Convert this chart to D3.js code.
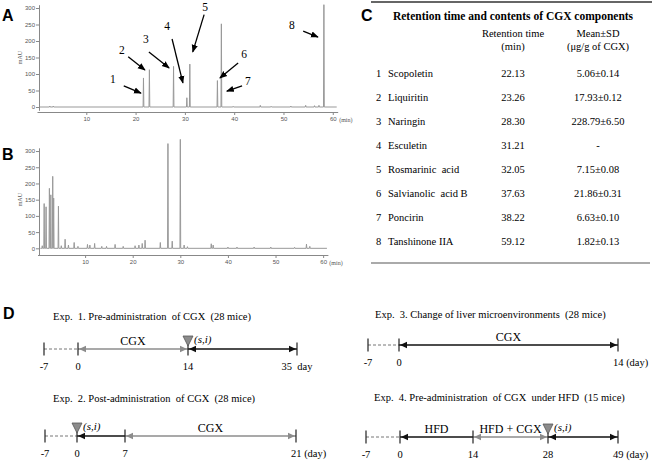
<!DOCTYPE html>
<html>
<head>
<meta charset="utf-8">
<script src="https://cdn.jsdelivr.net/npm/d3@7"></script>
<style>
body { margin: 0; background: #fff; }
svg { display: block; font-family: "Liberation Serif", "Times New Roman", serif; }
.pl { font-family: "Liberation Sans", Arial, sans-serif; font-weight: bold; font-size: 16px; }
.ax text { font-size: 6px; fill: #555; }
.ax path, .ax line { stroke: #888; }
</style>
</head>
<body>
<div id="fig"></div>
<script>
// chromatogram peaks, [retention time (min), mAU]
const peaksA = [[2.6,3],[3.3,3],[21.6,88],[22.8,113],[27.7,123],[30.4,28],[31.0,130],[36.6,80],[37.4,252],
	[39.8,2],[45.3,5],[47.5,2],[51.5,3],[54.5,5],[56.3,4],[57.2,5],[58.2,310]];
const peaksB = [[1.0,8],[1.4,138],[1.8,128],[2.5,185],[2.8,165],[3.2,222],[3.4,155],[4.4,130],[5.0,8],[5.8,28],
	[6.5,10],[7.7,18],[8.5,6],[10.5,12],[11.0,10],[12.0,15],[13.5,6],[14.5,6],[16.3,12],[18.0,6],[20.5,8],
	[21.3,10],[22.0,15],[22.6,25],[25.8,18],[27.4,323],[28.3,22],[30.0,336],[30.8,10],[31.5,5],[36.5,14],
	[36.9,10],[40.0,4],[41.9,4],[45.5,4],[49.0,4],[54.0,3],[56.5,13],[57.2,6]];
const yTicks = [0,50,100,150,200,250,300];
const xTicks = [10,20,30,40,50,60];
// numbered arrows in A: label point, arrow tail, arrow head (min, mAU)
const peakNames = ["1","2","3","4","5","6","7","8"];
const labelPos = [[15.4,74],[17.2,160],[22.1,193],[26.4,232],[34.1,290],[42.0,150],[42.8,68],[51.7,235]];
const arrowFrom = [[17.6,64],[18.5,152],[22.7,167],[27.4,206],[33.9,280],[40.8,133],[41.6,64],[54.0,230]];
const arrowTo = [[21.1,42],[21.9,112],[26.8,118],[29.6,73],[31.6,167],[37.1,88],[38.5,48],[57.0,212]];

// table C
const compounds = ["Scopoletin","Liquiritin","Naringin","Esculetin","Rosmarinic  acid","Salvianolic  acid B","Poncirin","Tanshinone IIA"];
const retention = ["22.13","23.26","28.30","31.21","32.05","37.63","38.22","59.12"];
const contents = ["5.06±0.14","17.93±0.12","228.79±6.50","-","7.15±0.08","21.86±0.31","6.63±0.10","1.82±0.13"];

// timelines D
const exp1Days = [-7,0,14,35], exp1Ticks = ["-7","0","14","35  day"];
const exp2Days = [-7,0,7,21], exp2Ticks = ["-7","0","7","21 (day)"];
const exp3Days = [-7,0,14], exp3Ticks = ["-7","0","14 (day)"];
const exp4Days = [-7,0,14,28,49], exp4Ticks = ["-7","0","14","28","49 (day)"];

var W = 652, H = 463;
var svg = d3.select("#fig").append("svg").attr("width", W).attr("height", H)
	.attr("font-family", "'Liberation Serif', 'Times New Roman', serif");

var defs = svg.append("defs");
defs.append("marker").attr("id", "ah")
	.attr("viewBox", "0 0 10 10").attr("refX", 9).attr("refY", 5)
	.attr("markerWidth", 6).attr("markerHeight", 6).attr("orient", "auto")
	.append("path").attr("d", "M0,1L10,5L0,9z").attr("fill", "#000");

function tracePts(peaks, end) {
	let pts = [[0.6,0]];
	peaks.forEach(function(p) {
		pts.push([p[0]-0.08,0], p, [p[0]+0.08,0]);
	});
	pts.push([end,0]);
	return pts;
}

function chromatogram(peaks, x, y, axisY, color) {
	let g = svg.append("g");
	g.append("g").attr("class", "ax").attr("transform", "translate(" + 39 + ",0)")
		.call(d3.axisLeft(y).tickValues(yTicks).tickSize(3).tickSizeOuter(0).tickPadding(1));
	g.append("g").attr("class", "ax").attr("transform", "translate(0," + axisY + ")")
		.call(d3.axisBottom(x).tickValues(xTicks).tickSize(3).tickSizeOuter(0).tickPadding(2));
	g.append("text").attr("x", x(61.3)).attr("y", axisY + 10).attr("font-size", 6).attr("fill", "#555").text("(min)");
	g.append("text").attr("transform", "translate(22," + y(150) + ") rotate(-90)")
		.attr("text-anchor", "middle").attr("font-size", 6).attr("fill", "#555").text("mAU");
	let line = d3.line().x(function(d) { return x(d[0]); }).y(function(d) { return y(d[1]); });
	g.append("path").attr("d", line(tracePts(peaks, 60.8)))
		.attr("fill", "none").attr("stroke", color).attr("stroke-width", 1);
	return g;
}

// ---- A
var xA = d3.scaleLinear([0,61], [37,337.7]);
var yA = d3.scaleLinear([-10,310], [110.3,4.7]);
var gA = chromatogram(peaksA, xA, yA, 112, "#999");
svg.append("text").attr("class", "pl").attr("x", 2).attr("y", 21).text("A");
gA.selectAll(".arr").data(peakNames).enter().append("line")
	.attr("x1", function(d,i) { return xA(arrowFrom[i][0]); })
	.attr("y1", function(d,i) { return yA(arrowFrom[i][1]); })
	.attr("x2", function(d,i) { return xA(arrowTo[i][0]); })
	.attr("y2", function(d,i) { return yA(arrowTo[i][1]); })
	.attr("stroke", "#000").attr("stroke-width", 1.3).attr("marker-end", "url(#ah)");
gA.selectAll(".lab").data(peakNames).enter().append("text")
	.attr("x", function(d,i) { return xA(labelPos[i][0]); })
	.attr("y", function(d,i) { return yA(labelPos[i][1]); })
	.attr("text-anchor", "middle").attr("font-size", 11.5).text(function(d) { return d; });

// ---- B
var xB = d3.scaleLinear([0,61], [37.5,327.9]);
var yB = d3.scaleLinear([-20,310], [254.8,147.8]);
chromatogram(peaksB, xB, yB, 255, "#999");
svg.append("text").attr("class", "pl").attr("x", 2).attr("y", 160).text("B");

// ---- C
svg.append("text").attr("class", "pl").attr("x", 361).attr("y", 21).text("C");
var tbl = svg.append("g").attr("font-size", 10.5);
tbl.append("line").attr("x1", 371).attr("x2", 652).attr("y1", 2).attr("y2", 2).attr("stroke", "#333").attr("stroke-width", 1.5);
tbl.append("text").attr("x", 513).attr("y", 20).attr("text-anchor", "middle").attr("font-weight", "bold")
	.attr("font-size", 11.5).text("Retention time and contents of CGX components");
[["Retention time", "(min)", 513], ["Mean\u00b1SD", "(\u03bcg/g of CGX)", 598]].forEach(function(h) {
	tbl.append("text").attr("x", h[2]).attr("y", 37).attr("text-anchor", "middle").text(h[0]);
	tbl.append("text").attr("x", h[2]).attr("y", 50).attr("text-anchor", "middle").text(h[1]);
});
var rowY = d3.scalePoint().domain(d3.range(compounds.length)).range([77, 245]);
var rows = tbl.selectAll(".row").data(compounds).enter().append("g")
	.attr("transform", function(d,i) { return "translate(0," + rowY(i) + ")"; });
rows.append("text").attr("x", 376).text(function(d,i) { return i + 1; });
rows.append("text").attr("x", 388).style("white-space", "pre").text(function(d) { return d; });
rows.append("text").attr("x", 513).attr("text-anchor", "middle").text(function(d,i) { return retention[i]; });
rows.append("text").attr("x", 598).attr("text-anchor", "middle").text(function(d,i) { return contents[i]; });
tbl.append("line").attr("x1", 371).attr("x2", 650).attr("y1", 263).attr("y2", 263).attr("stroke", "#aaa").attr("stroke-width", 2);

// ---- D
svg.append("text").attr("class", "pl").attr("x", 3).attr("y", 319).text("D");

const exps = [
	{title: "Exp.  1. Pre-administration  of CGX  (28 mice)", days: exp1Days, ticks: exp1Ticks, range: [44,78,188,297],
		tx: 53, ty: 320, ly: 349, marker: 14, lastAnchor: "middle",
		segs: [{a:-7,b:0,k:"dash"}, {a:0,b:14,k:"gray",h:[1,1],t:"CGX"}, {a:14,b:35,k:"black",h:[1,1]}]},
	{title: "Exp.  2. Post-administration  of CGX  (28 mice)", days: exp2Days, ticks: exp2Ticks, range: [45,77,125,296],
		tx: 53, ty: 402, ly: 436, marker: 0, lastAnchor: "start",
		segs: [{a:-7,b:0,k:"dash"}, {a:0,b:7,k:"black",h:[1,0]}, {a:7,b:21,k:"gray",h:[1,1],t:"CGX"}]},
	{title: "Exp.  3. Change of liver microenvironments  (28 mice)", days: exp3Days, ticks: exp3Ticks, range: [368,399,618],
		tx: 375, ty: 318, ly: 345, marker: null, lastAnchor: "start",
		segs: [{a:-7,b:0,k:"dash"}, {a:0,b:14,k:"black",h:[1,1],t:"CGX"}]},
	{title: "Exp.  4. Pre-administration  of CGX  under HFD  (15 mice)", days: exp4Days, ticks: exp4Ticks, range: [366,400,473,548,618],
		tx: 374, ty: 401, ly: 437, marker: 28, lastAnchor: "start",
		segs: [{a:-7,b:0,k:"dash"}, {a:0,b:14,k:"black",h:[1,0],t:"HFD"}, {a:14,b:28,k:"gray",h:[1,1],t:"HFD + CGX"},
			{a:28,b:49,k:"black",h:[1,1]}]}
];
var segColor = {dash: "#777", gray: "#8c8c8c", black: "#111"};

exps.forEach(function(e) {
	let x = d3.scaleLinear(e.days, e.range);
	let y = e.ly;
	let g = svg.append("g");
	g.append("text").attr("x", e.tx).attr("y", e.ty).attr("font-size", 10.5).style("white-space", "pre").text(e.title);
	e.segs.forEach(function(s) {
		let c = segColor[s.k];
		g.append("line").attr("x1", x(s.a)).attr("x2", x(s.b)).attr("y1", y).attr("y2", y)
			.attr("stroke", c).attr("stroke-width", s.k === "dash" ? 1 : 1.4)
			.attr("stroke-dasharray", s.k === "dash" ? "3,2" : null);
		if (s.h && s.h[0]) {
			let x0 = x(s.a) + 1;
			g.append("path").attr("d", "M" + x0 + "," + y + "l7,-3.2v6.4z").attr("fill", c);
		}
		if (s.h && s.h[1]) {
			let x1 = x(s.b) - 1;
			g.append("path").attr("d", "M" + x1 + "," + y + "l-7,-3.2v6.4z").attr("fill", c);
		}
		if (s.t) {
			g.append("text").attr("x", (x(s.a) + x(s.b)) / 2).attr("y", y - 4)
				.attr("text-anchor", "middle").attr("font-size", 12).text(s.t);
		}
	});
	g.selectAll(".tk").data(e.days).enter().append("line")
		.attr("x1", function(d) { return x(d); }).attr("x2", function(d) { return x(d); })
		.attr("y1", y - 6.5).attr("y2", y + 6.5).attr("stroke", "#222").attr("stroke-width", 1.2);
	g.selectAll(".tl").data(e.ticks).enter().append("text")
		.attr("x", function(d,i) { return x(e.days[i]) - (i === e.ticks.length - 1 && e.lastAnchor === "start" ? 5 : 0); })
		.attr("y", y + 21).attr("font-size", 10.5).style("white-space", "pre")
		.attr("text-anchor", function(d,i) { return i === e.ticks.length - 1 ? e.lastAnchor : "middle"; })
		.text(function(d) { return d; });
	if (e.marker !== null) {
		let cx = x(e.marker);
		g.append("path").attr("d", "M" + (cx - 5) + "," + (y - 13) + "h10l-5,10z")
			.attr("fill", "#8c8c8c").attr("stroke", "#555").attr("stroke-width", 0.8);
		g.append("text").attr("x", cx + 6).attr("y", y - 6).attr("font-size", 11)
			.attr("font-style", "italic").text("(s,i)");
	}
});
</script>
</body>
</html>
